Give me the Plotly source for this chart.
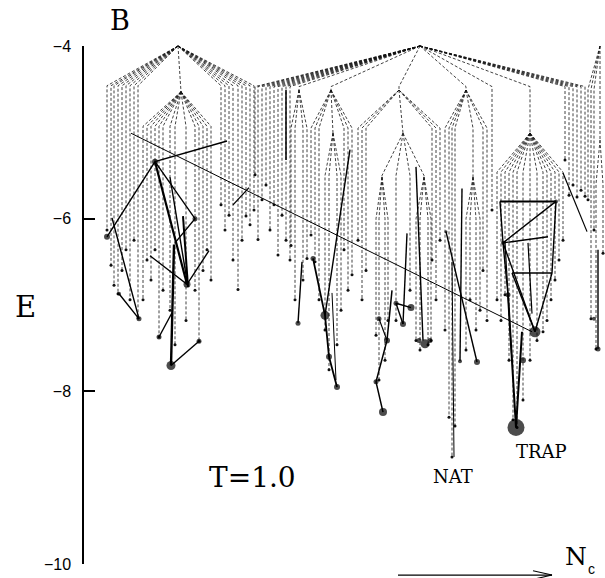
import plotly.graph_objects as go

# ---------------- energy-landscape tree (dashed) ----------------
tent_x = [178, 181, 420, 299, 331, 399, 466, 530, 600, 333, 403, 382, 424, 473, 600]
tent_E = [-4.00, -4.53, -4.00, -4.51, -4.51, -4.51, -4.51, -5.01, -4.00,
          -5.01, -5.01, -5.52, -5.52, -5.52, -5.09]
tent_shoulder_E = [-4.46, -4.93, -4.47, -4.95, -4.95, -4.95, -4.95, -5.46, -4.50,
                   -5.50, -5.50, -6.00, -6.00, -6.00, -5.60]

link_parent = [0, 2, 2, 2, 2, 2, 4, 5, 10, 10, 6, 8]
link_child = [1, 3, 4, 5, 6, 7, 9, 10, 11, 12, 13, 14]

leaf_x = {
    0: [107, 111, 114, 118, 122, 126, 130, 134, 138, 221, 225, 229, 233, 238, 242, 246, 250, 254],
    1: [143, 147, 151, 155, 159, 163, 170, 175, 186, 195, 199, 203, 207, 211],
    2: [255, 258, 262, 266, 270, 274, 278, 282, 286, 290, 492, 565, 569, 573, 577, 581, 585],
    3: [291, 295, 303, 307],
    4: [311, 315, 319, 344, 348, 352],
    5: [358, 362, 366, 432, 436, 440],
    6: [445, 449, 452, 455, 483, 487],
    7: [497, 501, 505, 509, 513, 517, 523, 530, 537, 543, 547, 551, 555, 559, 563],
    8: [588, 591, 594],
    9: [325, 329, 337, 341],
    10: [396, 410],
    11: [376, 379, 385, 388],
    12: [416, 420, 428, 431],
    13: [466, 470, 476, 480],
    14: [596, 603],
}
leaf_E = {
    0: [-6.13, -6.54, -6.77, -6.87, -6.60, -6.36, -6.94, -6.25, -7.15,
        -5.84, -6.13, -5.96, -6.48, -6.82, -6.25, -5.97, -6.07, -5.90],
    1: [-6.94, -6.48, -6.71, -6.36, -7.37, -6.83, -7.06, -7.46, -7.18,
        -6.83, -7.42, -6.60, -6.36, -6.71],
    2: [-5.49, -6.24, -5.78, -5.61, -6.13, -5.84, -6.42, -5.96, -6.25, -6.48,
        -5.90, -5.32, -5.73, -5.61, -5.75, -5.67, -5.74],
    3: [-6.31, -6.94, -6.71, -6.46],
    4: [-6.19, -6.50, -6.94, -6.36, -6.83, -6.65],
    5: [-6.25, -6.94, -6.60, -6.48, -6.94, -6.25],
    6: [-7.29, -8.30, -8.76, -8.40, -6.60, -7.18],
    7: [-6.94, -7.18, -6.88, -7.64, -8.33, -8.42, -8.10, -7.64, -7.41, -7.31,
        -7.18, -6.94, -6.71, -6.48, -6.25],
    8: [-5.78, -7.16, -6.13],
    9: [-7.29, -7.75, -7.46, -7.06],
    10: [-7.18, -6.83],
    11: [-7.35, -7.87, -7.64, -7.18],
    12: [-7.41, -7.52, -7.46, -7.41],
    13: [-7.52, -6.94, -7.29, -7.06],
    14: [-7.51, -6.40],
}

path_x = [
    [131, 532], [233, 249], [227, 155, 107], [155, 195, 175], [155, 187],
    [150, 187, 209], [174, 171], [171, 199], [159, 172], [112, 139, 119],
    [170, 188], [183, 188], [286, 286], [313, 325, 329, 337], [350, 325],
    [298, 302], [392, 387, 376, 383], [379, 387], [411, 396, 403], [407, 403],
    [416, 423], [452, 454], [446, 477], [462, 460], [508, 516, 522],
    [500, 556], [556, 503, 548], [512, 552], [500, 503, 508], [556, 552, 535],
    [503, 535], [512, 535], [528, 532], [505, 512], [563, 587], [598, 598],
    [332, 336],
]
path_E = [
    [-5.01, -7.31], [-5.84, -5.64], [-5.10, -5.34, -6.21], [-5.34, -6.00, -6.28], [-5.34, -6.76],
    [-6.43, -6.76, -6.37], [-6.30, -7.70], [-7.70, -7.42], [-7.37, -7.09], [-5.99, -7.16, -6.87],
    [-5.52, -6.79], [-5.97, -6.79], [-4.51, -5.32], [-6.46, -7.12, -7.60, -7.95], [-5.20, -7.12],
    [-7.21, -6.50], [-6.83, -7.41, -7.89, -8.24], [-7.16, -7.41], [-7.03, -6.98, -7.22], [-6.17, -7.22],
    [-5.40, -7.41], [-6.50, -8.76], [-6.15, -7.66], [-5.65, -7.65], [-6.88, -8.42, -7.31],
    [-5.80, -5.80], [-5.80, -6.28, -6.21], [-6.63, -6.63], [-5.80, -6.28, -6.88], [-5.80, -6.63, -7.31],
    [-6.28, -7.31], [-6.63, -7.31], [-6.28, -7.10], [-6.28, -7.66], [-5.47, -6.15], [-7.51, -6.36],
    [-6.86, -7.87],
]
path_w = [1.0, 1.3, 1.4, 1.4, 2.2, 1.4, 2.4, 1.4, 1.4, 1.4,
          1.4, 2.0, 1.5, 1.8, 1.4, 1.4, 1.5, 1.2, 1.4, 1.4,
          1.4, 1.0, 1.4, 1.4, 2.0, 2.0, 1.4, 1.4, 1.4, 1.4,
          1.4, 1.4, 1.2, 1.2, 1.2, 1.4, 1.0]

dot_x = [155, 107, 195, 187, 171, 199, 159, 139, 119, 313, 325, 329, 337, 298,
         387, 376, 383, 379, 396, 411, 403, 419, 425, 430, 477, 516, 535, 508,
         523, 556, 503, 598, 594, 446, 460]
dot_E = [-5.34, -6.21, -6.00, -6.76, -7.70, -7.42, -7.37, -7.16, -6.87, -6.46, -7.12, -7.60, -7.95, -7.21,
         -7.41, -7.89, -8.24, -7.16, -6.98, -7.03, -7.22, -7.41, -7.45, -7.41, -7.66, -8.42, -7.31, -6.88,
         -7.64, -5.80, -6.28, -7.51, -7.16, -6.15, -7.65]
dot_size = [6, 6, 5, 7, 9, 5, 5, 5, 4, 5, 9, 6, 6, 5,
            6, 5, 8, 5, 5, 7, 6, 5, 9, 5, 6, 17, 11, 5,
            6, 4, 4, 5, 4, 3, 4]

tick_vals = [-4, -6, -8, -10]
tick_text = ["\u22124", "\u22126", "\u22128", "\u221210"]

# ---------------- build figure ----------------
tx, ty = [], []
for p, c in zip(link_parent, link_child):
    tx += [tent_x[p], tent_x[c], tent_x[c], None]
    ty += [tent_E[p], tent_shoulder_E[p], tent_E[c], None]
lx, ly = [], []
for t, xs in leaf_x.items():
    for x, e in zip(xs, leaf_E[t]):
        tx += [tent_x[t], x, x, None]
        ty += [tent_E[t], tent_shoulder_E[t], e, None]
        lx.append(x)
        ly.append(e)

fig = go.Figure()
fig.add_trace(go.Scatter(x=tx, y=ty, mode="lines", hoverinfo="skip",
                         line=dict(color="#111111", width=0.8, dash="3px,2px")))
fig.add_trace(go.Scatter(x=lx, y=ly, mode="markers", hoverinfo="skip",
                         marker=dict(color="#111111", size=3)))
for xs, es, w in zip(path_x, path_E, path_w):
    fig.add_trace(go.Scatter(x=xs, y=es, mode="lines", hoverinfo="skip",
                             line=dict(color="black", width=w)))
fig.add_trace(go.Scatter(x=dot_x, y=dot_E, mode="markers", hoverinfo="skip",
                         marker=dict(color="black", size=dot_size, line=dict(width=0))))

# visible energy axis, drawn by a second (empty) subplot
fig.add_trace(go.Scatter(x=[0], y=[-7], xaxis="x2", yaxis="y2", mode="markers",
                         marker=dict(opacity=0), hoverinfo="skip"))

serif = "DejaVu Serif"
ann = [
    dict(x=120, y=-3.70, text="B", font=dict(family=serif, size=27)),
    dict(x=25, y=-7.02, text="E", font=dict(family=serif, size=29)),
    dict(x=252, y=-9.00, text="T=1.0", font=dict(family=serif, size=28)),
    dict(x=453, y=-8.99, text="NAT", font=dict(family=serif, size=18)),
    dict(x=541, y=-8.70, text="TRAP", font=dict(family=serif, size=18)),
    dict(x=576, y=-9.91, text="N", font=dict(family=serif, size=25)),
    dict(x=591, y=-10.06, text="c", font=dict(family="Liberation Sans", size=14)),
]
for a in ann:
    a.update(xref="x", yref="y", showarrow=False, xanchor="center", yanchor="middle")
    a["font"]["color"] = "black"

arrow_y = -10.128
shapes = [
    dict(type="line", xref="x", yref="y", x0=398, x1=552, y0=arrow_y, y1=arrow_y,
         line=dict(color="black", width=1.3)),
    dict(type="line", xref="x", yref="y", x0=533, x1=552, y0=arrow_y + 0.05, y1=arrow_y,
         line=dict(color="black", width=1.1)),
    dict(type="line", xref="x", yref="y", x0=533, x1=552, y0=arrow_y - 0.05, y1=arrow_y,
         line=dict(color="black", width=1.1)),
]

fig.update_layout(
    width=605, height=578,
    margin=dict(l=0, r=0, t=0, b=0, pad=0, autoexpand=False),
    paper_bgcolor="white", plot_bgcolor="rgba(0,0,0,0)",
    showlegend=False,
    annotations=ann, shapes=shapes,
    xaxis=dict(domain=[0, 1], range=[0, 605], visible=False, fixedrange=True),
    yaxis=dict(domain=[0, 1], range=[-10.162, -3.467], visible=False, fixedrange=True),
    xaxis2=dict(domain=[84 / 605, 90 / 605], anchor="y2", visible=False, range=[0, 1]),
    yaxis2=dict(domain=[1 - 564 / 578, 1 - 46 / 578], anchor="x2", range=[-10, -4],
                showline=True, linecolor="black", linewidth=1.5, automargin=False,
                ticks="inside", ticklen=11, tickwidth=1.5, tickcolor="black",
                tickvals=tick_vals, ticktext=tick_text, ticklabelstandoff=8,
                tickfont=dict(family="Liberation Sans", size=16, color="black"),
                showgrid=False, zeroline=False),
)

fig.write_html("out.html")
